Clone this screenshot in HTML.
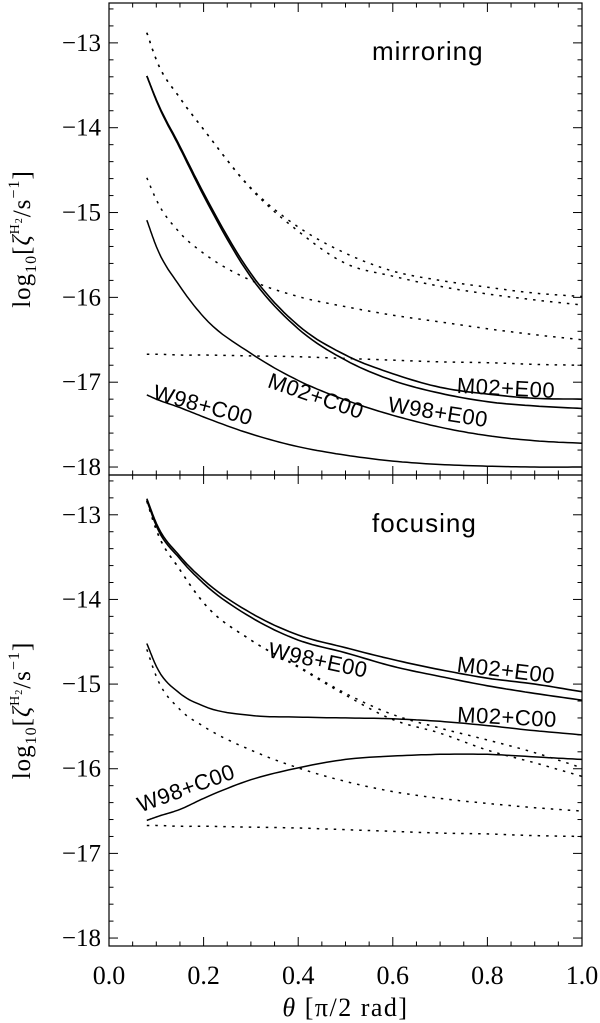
<!DOCTYPE html>
<html><head><meta charset="utf-8"><style>
html,body{margin:0;padding:0;background:#fff;}
svg{display:block;}
text{fill:#000;}
.ser{font-family:"Liberation Serif",serif;}
.san{font-family:"Liberation Sans",sans-serif;}
</style></head><body>
<svg id="chart" width="600" height="1023" viewBox="0 0 600 1023" xmlns="http://www.w3.org/2000/svg"></svg>
<script>
const xs = [0.08,0.1,0.15,0.2,0.3,0.4,0.5,0.6,0.7,0.8,0.9,1.0];
// top panel (mirroring)
const topDot1 = [-12.88,-13.2,-13.65,-14.02,-14.71,-15.17,-15.48,-15.69,-15.8,-15.88,-15.95,-15.99];
const topDot2 = [-12.88,-13.2,-13.65,-14.02,-14.72,-15.22,-15.6,-15.75,-15.87,-15.96,-16.03,-16.09];
const topDot3 = [-14.59,-14.85,-15.24,-15.48,-15.8,-15.99,-16.11,-16.21,-16.29,-16.37,-16.44,-16.5];
const topDot4 = [-16.67,-16.67,-16.68,-16.68,-16.69,-16.7,-16.72,-16.74,-16.76,-16.77,-16.79,-16.8];
const topM02E = [-13.39,-13.67,-14.22,-14.77,-15.72,-16.33,-16.68,-16.9,-17.06,-17.14,-17.19,-17.2];
const topW98E = [-13.39,-13.68,-14.24,-14.8,-15.76,-16.37,-16.74,-16.98,-17.13,-17.23,-17.28,-17.31];
const topM02C = [-15.09,-15.4,-15.87,-16.23,-16.66,-16.98,-17.21,-17.39,-17.53,-17.63,-17.69,-17.72];
const topW98C = [-17.15,-17.2,-17.3,-17.41,-17.61,-17.76,-17.86,-17.93,-17.97,-17.99,-18.0,-18.0];
// bottom panel (focusing)
const botM02E = [-12.81,-13.1,-13.49,-13.77,-14.16,-14.42,-14.57,-14.71,-14.83,-14.93,-15.0,-15.09];
const botW98E = [-12.83,-13.13,-13.52,-13.81,-14.21,-14.48,-14.63,-14.79,-14.91,-15.02,-15.11,-15.19];
const botDot1 = [-12.84,-13.18,-13.65,-14.04,-14.48,-14.79,-15.11,-15.36,-15.52,-15.66,-15.81,-15.99];
const botDot2 = [-12.84,-13.18,-13.65,-14.04,-14.48,-14.8,-15.13,-15.42,-15.58,-15.78,-15.93,-16.09];
const botM02C = [-14.52,-14.79,-15.11,-15.26,-15.37,-15.39,-15.4,-15.41,-15.44,-15.49,-15.55,-15.6];
const botDot3 = [-14.59,-14.91,-15.3,-15.5,-15.78,-15.99,-16.15,-16.27,-16.35,-16.41,-16.46,-16.5];
const botW98C = [-16.61,-16.57,-16.48,-16.35,-16.13,-15.99,-15.89,-15.85,-15.83,-15.83,-15.86,-15.89];
const botDot4 = [-16.67,-16.67,-16.68,-16.68,-16.69,-16.7,-16.72,-16.74,-16.76,-16.77,-16.79,-16.8];
const xTicks = [0.0,0.2,0.4,0.6,0.8,1.0];
const xTickLabels = ["0.0","0.2","0.4","0.6","0.8","1.0"];
const yTicks = [-13,-14,-15,-16,-17,-18];
const yTickLabels = ["\u221213","\u221214","\u221215","\u221216","\u221217","\u221218"];

const NS="http://www.w3.org/2000/svg";
const svg=document.getElementById('chart');
const L=109,R=582;
const panels=[{top:3,bot:475,name:'mirroring'},{top:475,bot:946,name:'focusing'}];
const yMax=-12.53,yMin=-18.094;
function sx(v){return L+(v-0)*(R-L);}
function mk(tag,attrs,parent){const e=document.createElementNS(NS,tag);for(const k in attrs)e.setAttribute(k,attrs[k]);(parent||svg).appendChild(e);return e;}
function makeY(p){return v=>p.top+(yMax-v)/(yMax-yMin)*(p.bot-p.top);}

// cubic Hermite with non-uniform-x slopes
function pathD(xv,yv,sy){
  const n=xv.length;const m=[];
  for(let i=0;i<n;i++){
    if(i===0)m.push((yv[1]-yv[0])/(xv[1]-xv[0]));
    else if(i===n-1)m.push((yv[n-1]-yv[n-2])/(xv[n-1]-xv[n-2]));
    else{
      const d0=(yv[i]-yv[i-1])/(xv[i]-xv[i-1]),d1=(yv[i+1]-yv[i])/(xv[i+1]-xv[i]);
      const h0=xv[i]-xv[i-1],h1=xv[i+1]-xv[i];
      m.push((d0*h1+d1*h0)/(h0+h1));
    }
  }
  let d='M'+sx(xv[0]).toFixed(1)+','+sy(yv[0]).toFixed(1);
  for(let i=0;i<n-1;i++){
    const h=xv[i+1]-xv[i];
    for(let s=1;s<=10;s++){
      const t=s/10,t2=t*t,t3=t2*t;
      const y=(2*t3-3*t2+1)*yv[i]+(t3-2*t2+t)*h*m[i]+(-2*t3+3*t2)*yv[i+1]+(t3-t2)*h*m[i+1];
      const x=xv[i]+t*h;
      d+=' L'+sx(x).toFixed(1)+','+sy(y).toFixed(1);
    }
  }
  return d;
}

function drawPanel(p,idx){
  const sy=makeY(p);
  const g=mk('g',{});
  
  
  const fr=mk('rect',{x:L,y:p.top,width:R-L,height:p.bot-p.top,fill:'none',stroke:'#000','stroke-width':1.2},g);
  
  
  for(let k=0;k<=20;k++){
    const v=k*0.05;const X=sx(v);const len=(k%4===0)?9:4.5;
    const t1=mk('line',{x1:X,y1:p.bot,x2:X,y2:p.bot-len,stroke:'#000','stroke-width':1},g);
    
    
    const t2=mk('line',{x1:X,y1:p.top,x2:X,y2:p.top+len,stroke:'#000','stroke-width':1},g);
    
    
  }
  for(let k=0;k<=30;k++){
    const v=-12.4-k*0.2;if(v>yMax||v<yMin)continue;
    const Y=sy(v);const major=Math.abs(v-Math.round(v))<1e-6;const len=major?9:4.5;
    const t1=mk('line',{x1:L,y1:Y,x2:L+len,y2:Y,stroke:'#000','stroke-width':1},g);
    
    
    const t2=mk('line',{x1:R,y1:Y,x2:R-len,y2:Y,stroke:'#000','stroke-width':1},g);
    
    
  }
  yTicks.forEach((v,i)=>{
    const t=mk('text',{x:L-8,y:sy(v)+8,'text-anchor':'end','font-size':25,class:'ser'},g);
    t.textContent=yTickLabels[i];
    
    
  });
  const cy=(p.top+p.bot)/2;
  const yt=mk('text',{x:0,y:0,transform:'translate(30,'+cy+') rotate(-90)','text-anchor':'middle','font-size':25,'letter-spacing':1,class:'ser'},g);
  yt.innerHTML='log<tspan font-size="16" dy="6">10</tspan><tspan dy="-6">[</tspan><tspan font-style="italic">ζ</tspan><tspan font-size="14" dy="-11">H</tspan><tspan font-size="10" dy="3">2</tspan><tspan dy="8">/s</tspan><tspan font-size="16" dy="-11">−1</tspan><tspan dy="11">]</tspan>';
  
  
  const pn=mk('text',{x:372,y:p.top+57,'font-size':26,'letter-spacing':1,class:'san'},g);
  pn.textContent=p.name;
  
  
  return {g,sy};
}

function series(g,sy,arr,dash,name,w){
  const e=mk('path',{d:pathD(xs,arr,sy),fill:'none',stroke:'#000','stroke-width':w||1.5,'stroke-dasharray':dash?'2.5,6':'none'},g);
  
  
}
function label(g,txt,x,y,rot,name){
  const t=mk('text',{x:0,y:0,transform:'translate('+x+','+y+') rotate('+rot+')','text-anchor':'middle','dominant-baseline':'central','font-size':22,'letter-spacing':0.5,class:'san'},g);
  t.textContent=txt;
  
  
}

const a=drawPanel(panels[0],0);
series(a.g,a.sy,topDot1,true,'mirroring-dotted-1');
series(a.g,a.sy,topDot2,true,'mirroring-dotted-2');
series(a.g,a.sy,topDot3,true,'mirroring-dotted-3');
series(a.g,a.sy,topDot4,true,'mirroring-dotted-4');
series(a.g,a.sy,topM02E,false,'mirroring-m02-e00',1.6);
series(a.g,a.sy,topW98E,false,'mirroring-w98-e00',1.6);
series(a.g,a.sy,topM02C,false,'mirroring-m02-c00');
series(a.g,a.sy,topW98C,false,'mirroring-w98-c00');
label(a.g,'M02+E00',506,388,3,'label-m02-e00');
label(a.g,'W98+E00',438,412,9,'label-w98-e00');
label(a.g,'M02+C00',316,396,19,'label-m02-c00');
label(a.g,'W98+C00',203,405,15,'label-w98-c00');

const b=drawPanel(panels[1],1);
series(b.g,b.sy,botDot1,true,'focusing-dotted-1');
series(b.g,b.sy,botDot2,true,'focusing-dotted-2');
series(b.g,b.sy,botDot3,true,'focusing-dotted-3');
series(b.g,b.sy,botDot4,true,'focusing-dotted-4');
series(b.g,b.sy,botM02E,false,'focusing-m02-e00',1.6);
series(b.g,b.sy,botW98E,false,'focusing-w98-e00',1.6);
series(b.g,b.sy,botM02C,false,'focusing-m02-c00');
series(b.g,b.sy,botW98C,false,'focusing-w98-c00');
label(b.g,'W98+E00',318,660,12,'label-w98-e00-focus');
label(b.g,'M02+E00',506,670,7,'label-m02-e00-focus');
label(b.g,'M02+C00',507,717,3,'label-m02-c00-focus');
label(b.g,'W98+C00',186,788,-20,'label-w98-c00-focus');

xTicks.forEach((v,i)=>{
  const t=mk('text',{x:sx(v),y:984,'text-anchor':'middle','font-size':26,class:'ser'});
  t.textContent=xTickLabels[i];
  
  
});
const xt=mk('text',{x:sx(0.5),y:1016,'text-anchor':'middle','font-size':26,'letter-spacing':1.5,class:'ser'});
xt.innerHTML='<tspan font-style="italic">θ</tspan> [π/2 rad]';


</script>
</body></html>
